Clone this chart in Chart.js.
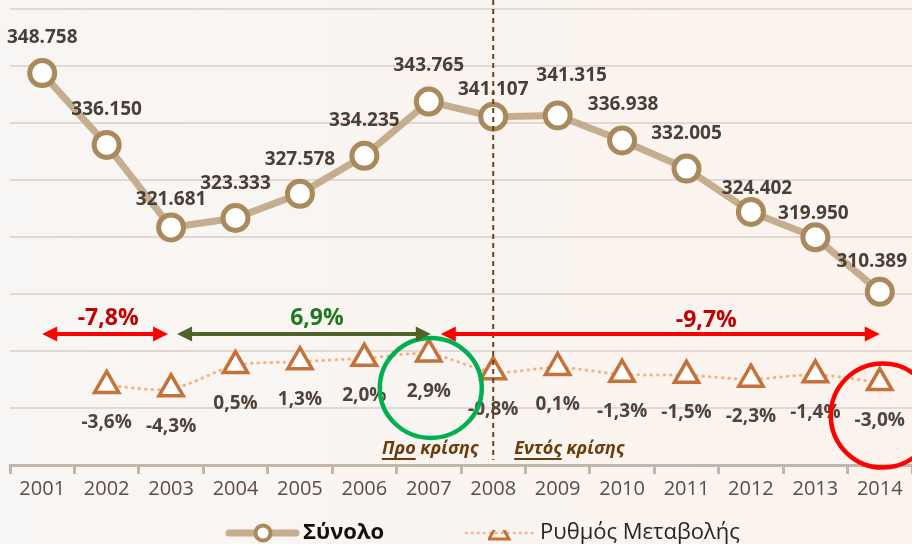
<!DOCTYPE html>
<html>
<head>
<meta charset="utf-8">
<script src="https://cdn.jsdelivr.net/npm/chart.js@4.4.1/dist/chart.umd.min.js"></script>
<style>
  html, body { margin: 0; padding: 0; background: #f9f6f3; }
  #grafico { display: block; }
</style>
</head>
<body>
<canvas id="grafico" width="912" height="544"></canvas>
<script>
const years = ['2001', '2002', '2003', '2004', '2005', '2006', '2007', '2008', '2009', '2010', '2011', '2012', '2013', '2014'];
const totalValues = [348758, 336150, 321681, 323333, 327578, 334235, 343765, 341107, 341315, 336938, 332005, 324402, 319950, 310389];
const changeValues = [null, -3.6, -4.3, 0.5, 1.3, 2.0, 2.9, -0.8, 0.1, -1.3, -1.5, -2.3, -1.4, -3.0];
const seriesNames = ['Σύνολο', 'Ρυθμός Μεταβολής'];

// periods marked with arrows
const periodTexts = ['-7,8%', '6,9%', '-9,7%'];
const periodStart = [0, 2, 6];
const periodEnd = [2, 6, 13];
const phaseLead = ['Προ', 'Εντός'];
const phaseRest = ' κρίσης';
const crisisYear = 7;

// label nudges (dx, distance above point)
const totalLabelShift = [[0, 37], [0, 37], [0, 29], [0, 36], [0, 36], [0, 37], [0, 38], [0, 29], [14, 42], [1, 37], [0, 37], [6, 25], [-2, 25], [-8, 32]];
const arrowNudge = [[0, -3], [6, 2], [12, 0]];
const arrowTextNudge = [3, 13, 46];

const fmtTotal = v => String(v).replace(/\B(?=(\d{3})+(?!\d))/g, '.');
const fmtPct = v => v.toFixed(1).replace('.', ',') + '%';

function drawArrow(ctx, x1, x2, y, color, both) {
    const head = 15, half = 7.5;
    ctx.save();
    ctx.strokeStyle = color;
    ctx.fillStyle = color;
    ctx.lineWidth = 4;
    ctx.beginPath();
    ctx.moveTo(x1 + (both ? head - 2 : 0), y);
    ctx.lineTo(x2 - head + 2, y);
    ctx.stroke();
    ctx.beginPath();
    ctx.moveTo(x2, y);
    ctx.lineTo(x2 - head, y - half);
    ctx.lineTo(x2 - head, y + half);
    ctx.closePath();
    ctx.fill();
    if (both) {
        ctx.beginPath();
        ctx.moveTo(x1, y);
        ctx.lineTo(x1 + head, y - half);
        ctx.lineTo(x1 + head, y + half);
        ctx.closePath();
        ctx.fill();
    }
    ctx.restore();
}

const extras = {
    id: 'extras',
    beforeDraw(chart) {
        const ctx = chart.ctx;
        const g = ctx.createLinearGradient(0, 0, chart.width, 0);
        g.addColorStop(0, '#f8f6f4');
        g.addColorStop(1, '#fcf3ed');
        ctx.save();
        ctx.fillStyle = g;
        ctx.fillRect(0, 0, chart.width, chart.height);
        ctx.restore();
    },
    afterDatasetsDraw(chart) {
        const ctx = chart.ctx;
        const xs = chart.scales.x;
        const y2 = chart.scales.y2;
        const area = chart.chartArea;
        const totalPts = chart.getDatasetMeta(0).data;
        const changePts = chart.getDatasetMeta(1).data;

        ctx.save();
        ctx.textAlign = 'center';
        ctx.textBaseline = 'alphabetic';

        // Σύνολο labels
        ctx.font = 'bold 19px "Open Sans"';
        ctx.fillStyle = '#4a3e36';
        totalPts.forEach((p, i) => {
            const [dx, dy] = totalLabelShift[i];
            ctx.fillText(fmtTotal(totalValues[i]), p.x + dx, p.y - dy + 7);
        });

        // Ρυθμός labels
        ctx.fillStyle = '#50433a';
        changePts.forEach((p, i) => {
            if (changeValues[i] === null) return;
            ctx.fillText(fmtPct(changeValues[i]), p.x, p.y + 36 + 7);
        });

        // crisis divider
        const cx = xs.getPixelForValue(crisisYear);
        ctx.strokeStyle = '#6e4310';
        ctx.lineWidth = 2;
        ctx.setLineDash([5, 4]);
        ctx.beginPath();
        ctx.moveTo(cx, 0);
        ctx.lineTo(cx, area.bottom - 5);
        ctx.stroke();
        ctx.setLineDash([]);

        // phase texts
        ctx.font = 'italic bold 18px "Open Sans"';
        ctx.fillStyle = '#6b3d0c';
        const ty = area.bottom - 11;
        const leftFull = phaseLead[0] + phaseRest;
        const wl = ctx.measureText(leftFull).width;
        const lx = cx - 15 - wl;
        ctx.textAlign = 'left';
        ctx.fillText(leftFull, lx, ty);
        ctx.fillRect(lx, ty + 4, ctx.measureText(phaseLead[0]).width, 2);
        const rx = cx + 21;
        ctx.fillText(phaseLead[1] + phaseRest, rx, ty);
        ctx.fillRect(rx, ty + 4, ctx.measureText(phaseLead[1]).width, 2);

        // circles
        const p7 = changePts[6], p14 = changePts[13];
        ctx.lineWidth = 4.5;
        ctx.strokeStyle = '#00b050';
        ctx.beginPath();
        ctx.ellipse(p7.x + 2, p7.y + 34, 51, 50, 0, 0, Math.PI * 2);
        ctx.stroke();
        ctx.strokeStyle = '#ff0000';
        ctx.beginPath();
        ctx.ellipse(p14.x + 3, p14.y + 33, 52, 52, 0, 0, Math.PI * 2);
        ctx.stroke();

        // arrows
        const ay = y2.getPixelForValue(7);
        const arrowColors = ['#ff0000', '#4f6228', '#ff0000'];
        const textColors = ['#c00000', '#1f7a1f', '#c00000'];
        ctx.font = 'bold 23px "Open Sans"';
        ctx.textAlign = 'center';
        periodTexts.forEach((t, k) => {
            const x1 = xs.getPixelForValue(periodStart[k]) + arrowNudge[k][0];
            const x2 = xs.getPixelForValue(periodEnd[k]) + arrowNudge[k][1];
            drawArrow(ctx, x1, x2, ay, arrowColors[k], true);
            ctx.fillStyle = textColors[k];
            ctx.fillText(t, (x1 + x2) / 2 + arrowTextNudge[k], ay - 9 + (k === 2 ? 2 : 0));
        });
        ctx.restore();
    },
    afterDraw(chart) {
        const ctx = chart.ctx;
        const ly = 533;
        ctx.save();
        // Σύνολο
        ctx.lineCap = 'round';
        ctx.strokeStyle = '#c4ae8f';
        ctx.lineWidth = 7;
        ctx.beginPath();
        ctx.moveTo(229, ly);
        ctx.lineTo(296, ly);
        ctx.stroke();
        ctx.fillStyle = '#ffffff';
        ctx.strokeStyle = '#a88a5c';
        ctx.lineWidth = 4;
        ctx.beginPath();
        ctx.arc(263, ly, 7.5, 0, Math.PI * 2);
        ctx.fill();
        ctx.stroke();
        ctx.fillStyle = '#111111';
        ctx.font = 'bold 22px "Open Sans"';
        ctx.textBaseline = 'middle';
        ctx.fillText(seriesNames[0], 303, ly);

        // Ρυθμός Μεταβολής
        ctx.strokeStyle = '#f4b183';
        ctx.lineWidth = 2.5;
        ctx.setLineDash([0.5, 5.5]);
        ctx.beginPath();
        ctx.moveTo(466, ly);
        ctx.lineTo(536, ly);
        ctx.stroke();
        ctx.setLineDash([]);
        ctx.save();
        ctx.beginPath();
        ctx.rect(488, ly - 3, 24, 16);
        ctx.clip();
        ctx.strokeStyle = '#c5713a';
        ctx.lineWidth = 3;
        ctx.lineCap = 'butt';
        ctx.beginPath();
        ctx.moveTo(499, ly - 12);
        ctx.lineTo(509, ly + 6);
        ctx.lineTo(489, ly + 6);
        ctx.closePath();
        ctx.stroke();
        ctx.restore();
        ctx.fillStyle = '#262626';
        ctx.font = '22px "Open Sans"';
        ctx.fillText(seriesNames[1], 540, ly);
        ctx.restore();
    }
};

const ctxGrafico = document.getElementById('grafico').getContext('2d');
const grafico = new Chart(ctxGrafico, {
    type: 'line',
    data: {
        labels: years,
        datasets: [
            {
                label: seriesNames[0],
                data: totalValues,
                yAxisID: 'y',
                borderColor: '#c4ae8f',
                borderWidth: 7,
                pointRadius: 12.5,
                pointBorderWidth: 5,
                pointBackgroundColor: '#ffffff',
                pointBorderColor: '#a88a5c',
                tension: 0
            },
            {
                label: seriesNames[1],
                data: changeValues,
                yAxisID: 'y2',
                borderColor: '#f4b183',
                borderWidth: 3,
                borderDash: [0.5, 6],
                borderCapStyle: 'round',
                pointStyle: 'triangle',
                pointRadius: 14,
                pointBorderWidth: 3.5,
                pointBackgroundColor: '#ffffff',
                pointBorderColor: '#c5713a',
                spanGaps: true,
                tension: 0.3
            }
        ]
    },
    options: {
        responsive: false,
        animation: false,
        devicePixelRatio: 1,
        layout: { autoPadding: false, padding: { left: 10, right: 0, top: 9, bottom: 0 } },
        plugins: {
            legend: { display: false },
            tooltip: { enabled: false }
        },
        scales: {
            x: {
                offset: true,
                grid: {
                    offset: true,
                    drawOnChartArea: false,
                    drawTicks: true,
                    tickLength: 9,
                    color: '#c2b6aa',
                    lineWidth: 3
                },
                border: { display: true, color: '#c2b6aa', width: 3 },
                ticks: {
                    color: '#5a4d45',
                    font: { family: 'Open Sans', size: 20 },
                    padding: 3,
                    maxRotation: 0
                },
                afterFit: s => { s.height = 79; s.paddingLeft = 0; s.paddingRight = 0; }
            },
            y: {
                min: 280000,
                max: 360000,
                ticks: { display: false, stepSize: 10000 },
                grid: { color: '#e0d9d3', lineWidth: 2, drawTicks: false },
                border: { display: false },
                afterFit: s => { s.width = 0; s.paddingTop = 0; s.paddingBottom = 0; }
            },
            y2: {
                display: false,
                min: -20,
                max: 74
            }
        }
    },
    plugins: [extras]
});
</script>
</body>
</html>
